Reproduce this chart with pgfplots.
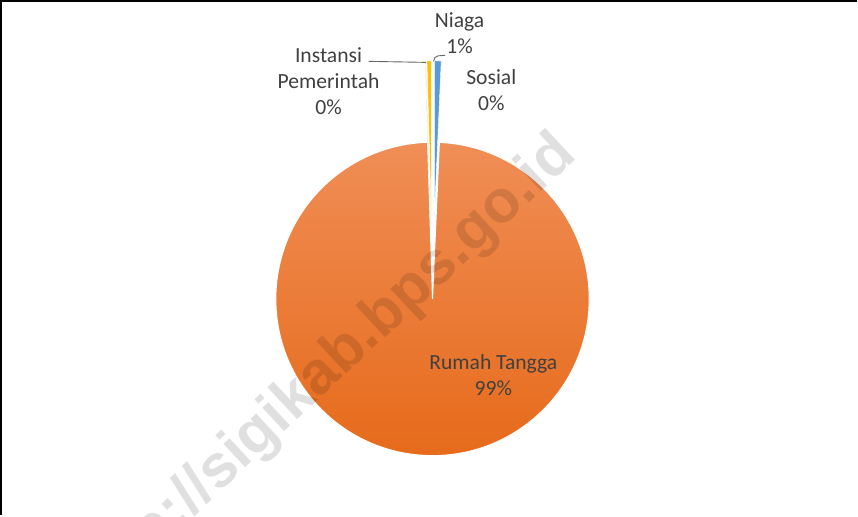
\documentclass[border=0pt]{standalone}
\usepackage{pgfplots}
\pgfplotsset{compat=1.18}
\usepackage{fontspec}
\setmainfont{Carlito}
\newfontfamily\wmfont{Liberation Sans}
\definecolor{txt}{HTML}{404040}
\definecolor{cblue}{HTML}{5B9BD5}
\definecolor{cyellow}{HTML}{FFC000}
\definecolor{otop}{RGB}{240,142,86}
\definecolor{omid}{RGB}{242,125,45}
\definecolor{obot}{RGB}{230,106,26}
\begin{document}
\begin{tikzpicture}
% data: shares in percent (clockwise from 12 o'clock)
\pgfmathsetmacro\vN{0.7}   % Niaga
\pgfmathsetmacro\vR{98.8}  % Rumah Tangga
\pgfmathsetmacro\vS{0.05}  % Sosial
\pgfmathsetmacro\vI{0.45}  % Instansi Pemerintah
\pgfmathsetmacro\aA{90}
\pgfmathsetmacro\aB{\aA-3.6*\vN}
\pgfmathsetmacro\aC{\aB-3.6*\vR}
\pgfmathsetmacro\aD{\aC-3.6*\vS}
\pgfmathsetmacro\aE{\aD-3.6*\vI}
\pgfmathsetmacro\mN{(\aA+\aB)/2}
\pgfmathsetmacro\mS{(\aC+\aD)/2}
\pgfmathsetmacro\mI{(\aD+\aE)/2}
\def\cx{435.5}\def\cy{215.5}\def\ex{81}
\begin{axis}[
  width=858bp, height=518bp, scale only axis,
  xmin=0, xmax=858, ymin=0, ymax=518,
  hide axis, clip=false,
]
% Rumah Tangga (not exploded)
\path[draw=white, line width=1bp, top color=otop, middle color=omid, bottom color=obot]
  (axis cs:\cx,\cy) -- ++(\aB:156bp) arc[start angle=\aB, end angle=\aC, radius=156bp] -- cycle;
% Niaga (exploded)
\path[fill=cblue, draw=white, line width=0.4bp]
  (axis cs:{\cx+\ex*cos(\mN)},{\cy+\ex*sin(\mN)}) -- ++(\aA:156bp) arc[start angle=\aA, end angle=\aB, radius=156bp] -- cycle;
% Sosial (exploded)
\path[fill=gray!60, draw=white, line width=0.2bp]
  (axis cs:{\cx+\ex*cos(\mS)},{\cy+\ex*sin(\mS)}) -- ++(\aC:156bp) arc[start angle=\aC, end angle=\aD, radius=156bp] -- cycle;
% Instansi (exploded)
\path[fill=cyellow, draw=white, line width=0.4bp]
  (axis cs:{\cx+\ex*cos(\mI)},{\cy+\ex*sin(\mI)}) -- ++(\aD:156bp) arc[start angle=\aD, end angle=\aE, radius=156bp] -- cycle;
% leader lines
\draw[txt!80, line width=0.9bp] (axis cs:372,452) -- (axis cs:429,451);
\draw[txt!80, line width=0.9bp] (axis cs:448,458) -- (axis cs:441,457.5) .. controls (axis cs:438,457) and (axis cs:437,455) .. (axis cs:436.5,452);
% labels
\tikzset{lbl/.style={align=center, inner sep=0pt, text=txt, font=\fontsize{21.5bp}{26bp}\selectfont}}
\node[lbl] at (axis cs:462.5,480) {Niaga\\1\%};
\node[lbl] at (axis cs:332,432.5) {Instansi\\Pemerintah\\0\%};
\node[lbl] at (axis cs:494,423.5) {Sosial\\0\%};
\node[lbl] at (axis cs:496,140) {Rumah Tangga\\99\%};
% frame
\draw[black, line width=2.2bp] (axis cs:6,0) -- (axis cs:6,512) -- (axis cs:858,512);
% watermark (on top)
\node[overlay, rotate=43, anchor=base west, inner sep=0pt, text=black, text opacity=0.12,
  font=\wmfont\bfseries\fontsize{60bp}{64bp}\selectfont]
  at (axis cs:100,-92) {http://sigikab.bps.go.id};
\end{axis}
\end{tikzpicture}
\end{document}
